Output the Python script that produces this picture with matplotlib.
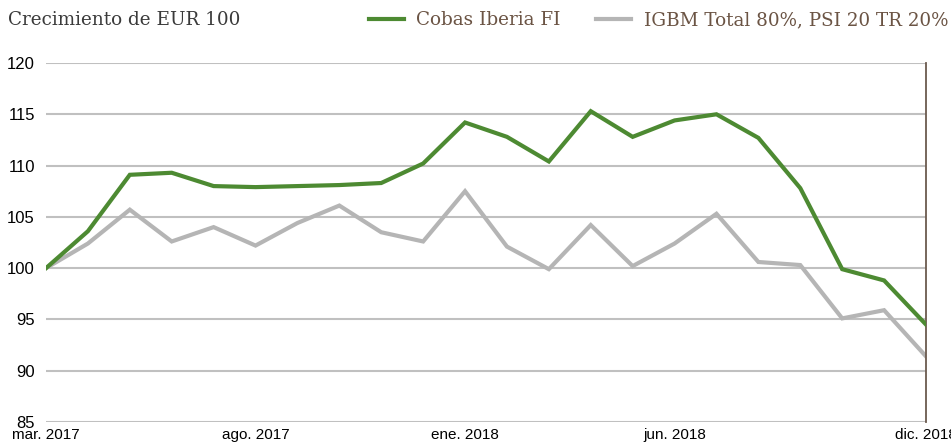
import matplotlib
matplotlib.use("Agg")
import matplotlib.pyplot as plt

# Monthly points, mar. 2017 - dic. 2018
months = ["mar. 2017", "abr. 2017", "may. 2017", "jun. 2017", "jul. 2017", "ago. 2017",
          "sept. 2017", "oct. 2017", "nov. 2017", "dic. 2017", "ene. 2018", "feb. 2018",
          "mar. 2018", "abr. 2018", "may. 2018", "jun. 2018", "jul. 2018", "ago. 2018",
          "sept. 2018", "oct. 2018", "nov. 2018", "dic. 2018"]

cobas = [100.0, 103.6, 109.1, 109.3, 108.0, 107.9, 108.0, 108.1, 108.3, 110.2, 114.2,
         112.8, 110.4, 115.3, 112.8, 114.4, 115.0, 112.7, 107.8, 99.9, 98.8, 94.5]
bench = [100.0, 102.4, 105.7, 102.6, 104.0, 102.2, 104.4, 106.1, 103.5, 102.6, 107.5,
         102.1, 99.9, 104.2, 100.2, 102.4, 105.3, 100.6, 100.3, 95.1, 95.9, 91.4]

shown_ticks = [0, 5, 10, 15, 21]
yticks = [85, 90, 95, 100, 105, 110, 115, 120]

green = "#4d8a32"
grey = "#b5b5b5"
brown = "#6b5444"

W, H = 951, 446
fig = plt.figure(figsize=(W / 100, H / 100), dpi=100)
ax = fig.add_axes([46 / W, 1 - 422 / H, 880 / W, 359 / H])

x = list(range(len(months)))
ax.plot(x, cobas, color=green, lw=3, label="Cobas Iberia FI", zorder=3, solid_joinstyle="miter")
ax.plot(x, bench, color=grey, lw=3, label="IGBM Total 80%, PSI 20 TR 20%", zorder=2,
        solid_joinstyle="miter")

ax.set_xlim(0, len(months) - 1)
ax.set_ylim(85, 120)
ax.set_yticks(yticks)
ax.set_xticks(shown_ticks)
ax.set_xticklabels([months[i] for i in shown_ticks])
ax.yaxis.grid(True, color="#c0c0c0", lw=1.5)
ax.set_axisbelow(True)
ax.tick_params(length=0, labelcolor="black")
ax.tick_params(axis="y", pad=8, labelsize=12)
ax.tick_params(axis="x", pad=4, labelsize=11)
for lab in ax.get_xticklabels() + ax.get_yticklabels():
    lab.set_fontfamily("Liberation Sans")

for side in ["top", "left", "bottom"]:
    ax.spines[side].set_visible(False)
ax.spines["right"].set_color("#6b5a4e")
ax.spines["right"].set_linewidth(1.3)

fig.text(8 / W, 1 - 20 / H, "Crecimiento de EUR 100", fontsize=13.2, family="DejaVu Serif",
         color="#3a3a3a", va="center", ha="left")

fig.legend(loc="center right", bbox_to_anchor=(948 / W, 1 - 20 / H), ncol=2, frameon=False,
           prop={"family": "DejaVu Serif", "size": 13.2}, labelcolor=brown,
           handlelength=1.9, handletextpad=0.7, columnspacing=1.9, borderpad=0,
           borderaxespad=0)

fig.savefig("out.png", dpi=100)
